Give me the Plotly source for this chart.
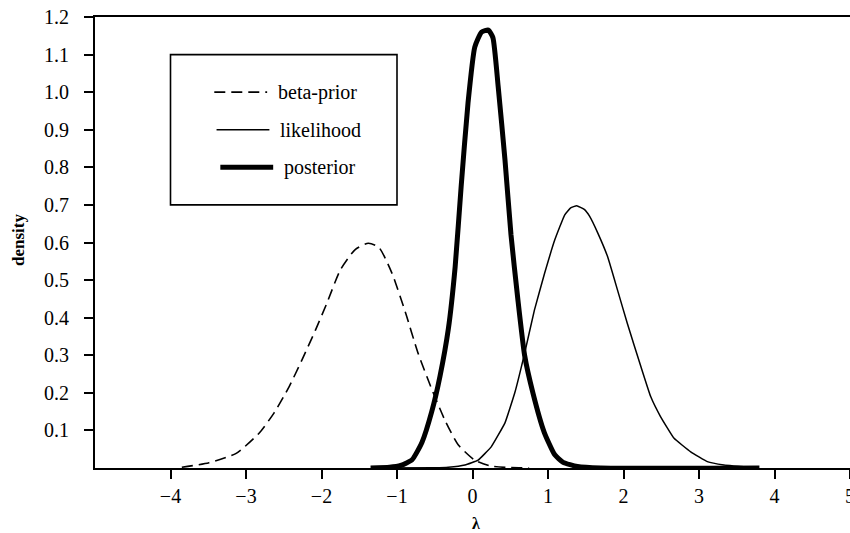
import plotly.graph_objects as go

# ---- data ----
prior_x = [-3.85, -3.49, -3.13, -2.83, -2.63, -2.43, -2.26, -2.08, -1.93, -1.75,
           -1.55, -1.38, -1.24, -1.07, -0.89, -0.72, -0.54, -0.36, -0.19, 0.03,
           0.25, 0.5, 0.75]
prior_y = [0.002, 0.014, 0.039, 0.092, 0.146, 0.216, 0.287, 0.367, 0.438, 0.527,
           0.582, 0.598, 0.587, 0.52, 0.415, 0.305, 0.21, 0.125, 0.062, 0.021,
           0.005, 0.001, 0.0]

like_x = [-1.3, -0.5, -0.32, -0.1, 0.075, 0.25, 0.43, 0.56, 0.69, 0.82, 0.955,
          1.09, 1.22, 1.30, 1.38, 1.48, 1.55, 1.66, 1.79, 1.92, 2.05, 2.23, 2.36,
          2.49, 2.67, 2.89, 3.11, 3.33, 3.77]
like_y = [0.0, 0.0005, 0.002, 0.008, 0.021, 0.057, 0.12, 0.20, 0.305, 0.42, 0.518,
          0.607, 0.673, 0.692, 0.698, 0.688, 0.67, 0.625, 0.562, 0.474, 0.385, 0.27,
          0.19, 0.137, 0.079, 0.043, 0.017, 0.008, 0.0]

post_x = [-1.35, -1.1, -0.95, -0.80, -0.67, -0.54, -0.43, -0.32, -0.23, -0.15,
          -0.06, 0.03, 0.12, 0.21, 0.27, 0.34, 0.43, 0.51, 0.60, 0.69, 0.80, 0.95,
          1.09, 1.2, 1.39, 1.7, 3.8]
post_y = [0.0, 0.002, 0.007, 0.022, 0.068, 0.150, 0.245, 0.37, 0.535, 0.75,
          0.97, 1.12, 1.16, 1.165, 1.145, 1.015, 0.82, 0.62, 0.45, 0.30, 0.20, 0.095,
          0.035, 0.015, 0.004, 0.0, 0.0]

x_ticks = [-4, -3, -2, -1, 0, 1, 2, 3, 4, 5]
y_ticks = [0.1, 0.2, 0.3, 0.4, 0.5, 0.6, 0.7, 0.8, 0.9, 1.0, 1.1, 1.2]
y_tick_text = ["%.1f" % v for v in y_ticks]

series_names = ["beta-prior", "likelihood", "posterior"]

FONT = "Liberation Serif"
W, H = 850, 533
ML, MR, MT, MB = 95, 0, 17, 65

fig = go.Figure()

styles = [
    dict(color="black", width=1.6, dash="11px,6px", shape="spline", smoothing=0.6),
    dict(color="black", width=1.5, shape="spline", smoothing=0.3),
    dict(color="black", width=5, shape="spline", smoothing=0.5),
]
for name, xs, ys, st in zip(series_names,
                            [prior_x, like_x, post_x],
                            [prior_y, like_y, post_y], styles):
    fig.add_trace(go.Scatter(x=xs, y=ys, mode="lines", name=name, line=st,
                             cliponaxis=False, showlegend=False))

# ---- hand-drawn legend box (data coords) ----
shapes = [dict(type="rect", xref="x", yref="y", x0=-4, x1=-1, y0=0.7, y1=1.1,
               line=dict(color="black", width=1.6), fillcolor="rgba(0,0,0,0)",
               layer="above")]
leg_rows = [1.0, 0.9, 0.8]
leg_line_styles = [dict(color="black", width=1.6, dash="11px,6px"),
                   dict(color="black", width=1.5),
                   dict(color="black", width=5)]
leg_x0 = [-3.42, -3.39, -3.34]
annotations = []
for name, yy, st, x0 in zip(series_names, leg_rows, leg_line_styles, leg_x0):
    shapes.append(dict(type="line", xref="x", yref="y", x0=x0, x1=x0 + 0.70,
                       y0=yy, y1=yy, line=st, layer="above"))
    annotations.append(dict(xref="x", yref="y", x=x0 + 0.82, y=yy, text=name,
                            showarrow=False, xanchor="left", yanchor="middle",
                            font=dict(family=FONT, size=20, color="black")))

plot_w = W - ML - MR
plot_h = H - MT - MB
# axis titles
annotations.append(dict(xref="paper", yref="paper", x=(18 - ML) / plot_w,
                        y=(H - MB - 240) / plot_h, text="<b>density</b>",
                        textangle=-90, showarrow=False, xanchor="center",
                        yanchor="middle",
                        font=dict(family=FONT, size=17, color="black")))
annotations.append(dict(xref="paper", yref="paper", x=(476 - ML) / plot_w,
                        y=(H - MB - 523) / plot_h, text="<b>λ</b>",
                        showarrow=False, xanchor="center", yanchor="middle",
                        font=dict(family=FONT, size=16, color="black")))

fig.update_layout(
    width=W, height=H,
    margin=dict(l=ML, r=MR, t=MT, b=MB, pad=0, autoexpand=False),
    paper_bgcolor="white", plot_bgcolor="white",
    shapes=shapes, annotations=annotations,
    font=dict(family=FONT, size=20, color="black"),
    xaxis=dict(range=[-5, 5], tickvals=x_ticks, ticks="outside", ticklen=9,
               tickwidth=1.5, tickcolor="black", showline=True, linecolor="black",
               linewidth=1.8, mirror=True, showgrid=False, zeroline=False,
               ticklabeloverflow="allow", automargin=False,
               tickfont=dict(family=FONT, size=20, color="black")),
    yaxis=dict(range=[0, 1.2], tickvals=y_ticks, ticktext=y_tick_text,
               ticks="outside", ticklen=9, tickwidth=1.5, tickcolor="black",
               showline=True, linecolor="black", linewidth=1.8, mirror=False,
               showgrid=False, zeroline=False, ticklabelstandoff=11,
               automargin=False,
               tickfont=dict(family=FONT, size=20, color="black")),
)

fig.write_html("out.html")
